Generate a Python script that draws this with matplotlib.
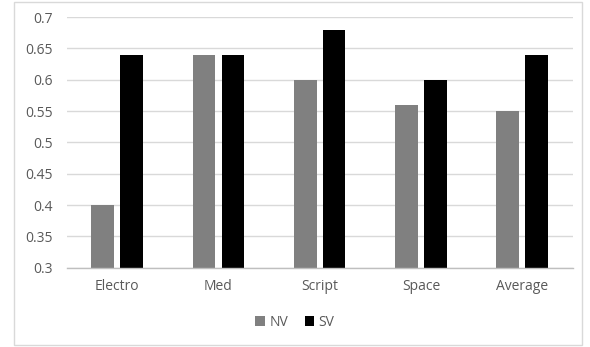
import matplotlib.pyplot as plt
from matplotlib.patches import Rectangle
import numpy as np

categories = ['Electro', 'Med', 'Script', 'Space', 'Average']
nv = [0.40, 0.64, 0.60, 0.56, 0.55]
sv = [0.64, 0.64, 0.68, 0.60, 0.64]
yticks = [0.3, 0.35, 0.4, 0.45, 0.5, 0.55, 0.6, 0.65, 0.7]
ytick_labels = ['0.3', '0.35', '0.4', '0.45', '0.5', '0.55', '0.6', '0.65', '0.7']

plt.rcParams['font.family'] = ['Open Sans', 'DejaVu Sans']

fig = plt.figure(figsize=(5.9, 3.47), dpi=100)
# outer chart border
fig.patches.append(Rectangle((14 / 590, 2 / 347), 568 / 590, 343 / 347,
                             transform=fig.transFigure, fill=False,
                             edgecolor='#d9d9d9', linewidth=1))

ax = fig.add_axes([0.113, 0.2285, 0.8577, 0.7225])
x = np.arange(len(categories))
w = 0.224
off = 0.143
ax.bar(x - off, nv, w, bottom=0, color='#808080', label='NV', zorder=3)
ax.bar(x + off, sv, w, bottom=0, color='#000000', label='SV', zorder=3)

ax.set_xlim(-0.5, len(categories) - 0.5)
ax.set_ylim(0.3, 0.7)
ax.set_yticks(yticks)
ax.set_yticklabels(ytick_labels)
ax.set_xticks(x)
ax.set_xticklabels(categories)
ax.tick_params(axis='both', length=0, labelsize=10, colors='#595959')
ax.tick_params(axis='x', pad=8)
ax.tick_params(axis='y', pad=10)
ax.yaxis.grid(True, color='#d9d9d9', linewidth=1, zorder=0)
for s in ['top', 'right', 'left']:
    ax.spines[s].set_visible(False)
ax.spines['bottom'].set_color('#bfbfbf')
ax.spines['bottom'].set_linewidth(1)
ax.spines['bottom'].set_zorder(4)

fig.legend(loc='center', bbox_to_anchor=(0.5, 1 - 322 / 347), ncol=2, frameon=False,
           fontsize=10, labelcolor='#595959', handlelength=0.7, handleheight=0.7,
           handletextpad=0.3, columnspacing=1.2)

fig.savefig('out.png', dpi=100)
